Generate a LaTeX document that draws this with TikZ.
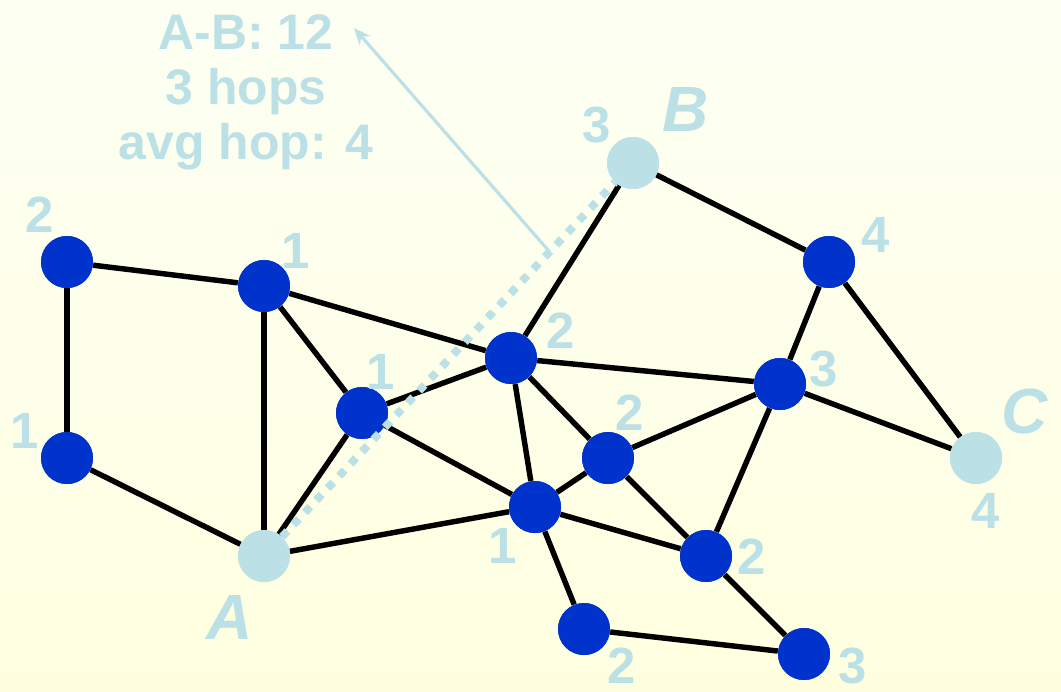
\documentclass[tikz,border=0pt]{standalone}
\usepackage{fontspec}
\setmainfont{Liberation Sans}
\usepackage{xcolor}
\usetikzlibrary{arrows.meta, calc}
\definecolor{netblue}{RGB}{0,51,204}
\definecolor{pale}{RGB}{187,224,229}
\tikzset{
  hub/.style     = {circle, fill=netblue, minimum size=1.04cm, inner sep=0pt},
  endpt/.style   = {circle, fill=pale, minimum size=1.04cm, inner sep=0pt},
  link/.style    = {line width=3.1pt, black},
  hoplbl/.style  = {inner sep=0pt, text=pale,
                    font=\fontsize{29}{30}\selectfont\bfseries},
  endlbl/.style  = {inner sep=0pt, text=pale,
                    font=\fontsize{36.4}{38}\selectfont\bfseries\itshape},
  route/.style   = {pale, line width=4.5pt, dash pattern=on 4.5pt off 5pt},
  note/.style    = {inner sep=0pt, text=pale, align=center,
                    font=\fontsize{28.4}{31.3}\selectfont\bfseries},
}

\begin{document}
\begin{tikzpicture}[x=0.02cm, y=-0.02cm]
  % background
  \fill[top color={rgb,255:red,253;green,255;blue,243},
        bottom color={rgb,255:red,255;green,255;blue,224}]
    (0,0) rectangle (1061,691);

  % nodes
  \node[endpt] (A)   at (264,556) {};
  \node[endpt] (B)   at (633,163) {};
  \node[endpt] (C)   at (976,458) {};
  \node[hub]   (n2a) at (67,262)  {};
  \node[hub]   (n1a) at (67,458)  {};
  \node[hub]   (n1b) at (264,286) {};
  \node[hub]   (n1c) at (362,413) {};
  \node[hub]   (n2b) at (511,358) {};
  \node[hub]   (n1d) at (535,507) {};
  \node[hub]   (n2c) at (608,458) {};
  \node[hub]   (n4a) at (829,262) {};
  \node[hub]   (n3a) at (780,384) {};
  \node[hub]   (n2d) at (706,556) {};
  \node[hub]   (n2e) at (584,629) {};
  \node[hub]   (n3b) at (804,654) {};

  % links
  \foreach \a/\b in {n2a/n1b, n2a/n1a, n1a/A, n1b/A, n1b/n1c, n1b/n2b,
                     n1c/A, n1c/n2b, n1c/n1d, A/n1d, n2b/B, n2b/n1d,
                     n2b/n2c, n2b/n3a, B/n4a, n4a/n3a, n4a/C, n3a/C,
                     n3a/n2c, n3a/n2d, n2c/n1d, n2c/n2d, n1d/n2d,
                     n1d/n2e, n2e/n3b, n2d/n3b}
    \draw[link] (\a) -- (\b);

  % redraw nodes over the link ends
  \foreach \n in {n2a,n1a,n1b,n1c,n2b,n1d,n2c,n4a,n3a,n2d,n2e,n3b}
    \fill[netblue] (\n) circle (0.52cm);
  \foreach \n in {A,B,C}
    \fill[pale] (\n) circle (0.52cm);

  % A-B route
  \draw[route] (A) -- (B);

  % hop counts
  \node[hoplbl] (h2a) at (40,215)  {2};
  \node[hoplbl] (h1b) at (296,251) {1};
  \node[hoplbl] (h1a) at (25,431)  {1};
  \node[hoplbl] (h1c) at (381,372) {1};
  \node[hoplbl] (h1d) at (503,546) {1};
  \node[hoplbl] (h2b) at (561,331) {2};
  \node[hoplbl] (h3B) at (597,125) {3};
  \node[hoplbl] (h4a) at (876,235) {4};
  \node[hoplbl] (h3a) at (824,369) {3};
  \node[hoplbl] (h2c) at (630,413) {2};
  \node[hoplbl] (h4C) at (986,511) {4};
  \node[hoplbl] (h2d) at (752,557) {2};
  \node[hoplbl] (h2e) at (622,666) {2};
  \node[hoplbl] (h3b) at (853,666) {3};

  % end point names
  \node[endlbl] (lA) at (230,617)  {A};
  \node[endlbl] (lB) at (686,109)  {B};
  \node[endlbl] (lC) at (1025,411) {C};

  % summary
  \node[note, anchor=north] (sum) at (246,14)
    {A-B: 12\\3 hops\\avg hop: 4};
  \coordinate (foot) at ($(A)!0.774!(B)$);
  \coordinate (tip)  at (354,28);
  \draw[pale, line width=1.8pt, -{Stealth[length=9.5pt, width=8pt]}]
    (foot) -- (tip);
\end{tikzpicture}
\end{document}
